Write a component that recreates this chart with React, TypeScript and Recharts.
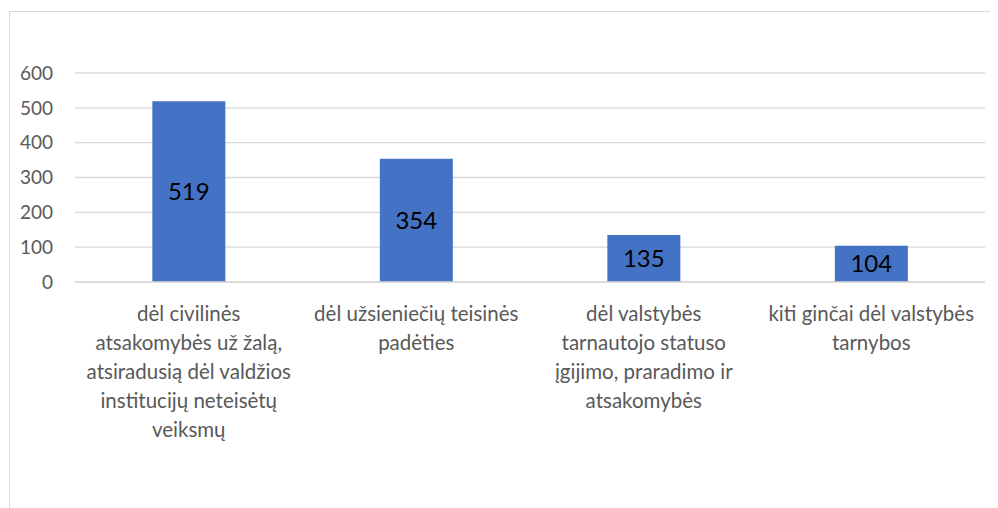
import React from "react";
import { BarChart, Bar, XAxis, YAxis, CartesianGrid, LabelList } from "recharts";

const categories = [
  "dėl civilinės\natsakomybės už žalą,\natsiradusią dėl valdžios\ninstitucijų neteisėtų\nveiksmų",
  "dėl užsieniečių teisinės\npadėties",
  "dėl valstybės\ntarnautojo statuso\nįgijimo, praradimo ir\natsakomybės",
  "kiti ginčai dėl valstybės\ntarnybos",
];
const counts = [519, 354, 135, 104];
const yTicks = [0, 100, 200, 300, 400, 500, 600];

const data = categories.map((name, i) => ({ name, value: counts[i] }));

const FONT = "Lato, 'Open Sans', sans-serif";

function CategoryTick({ x, y, payload }: any) {
  const lines = String(payload.value).split("\n");
  return (
    <text x={x} y={y} textAnchor="middle" fill="#595959" fontSize={20.5} fontFamily={FONT}>
      {lines.map((l, i) => (
        <tspan key={i} x={x} dy={i === 0 ? 37 : 29}>
          {l}
        </tspan>
      ))}
    </text>
  );
}

export default function App() {
  return (
    <div style={{ position: "relative", width: 990, height: 500, overflow: "hidden" }}>
      <div
        style={{
          position: "absolute",
          left: 1,
          top: 3,
          width: 1100,
          height: 600,
          border: "1px solid #d9d9d9",
          boxSizing: "border-box",
        }}
      />
      <div style={{ position: "absolute", left: 0, top: 0 }}>
        <BarChart
          width={990}
          height={500}
          data={data}
          margin={{ top: 65, right: 13, bottom: 0, left: 0 }}
          barCategoryGap="34%"
        >
          <CartesianGrid vertical={false} stroke="#d9d9d9" strokeWidth={1.3} />
          <XAxis
            dataKey="name"
            height={226}
            interval={0}
            axisLine={{ stroke: "#d9d9d9", strokeWidth: 1.3 }}
            tickLine={false}
            tickSize={0}
            tick={<CategoryTick />}
          />
          <YAxis
            width={67}
            domain={[0, 600]}
            ticks={yTicks}
            axisLine={false}
            tickLine={false}
            tickSize={0}
            tickMargin={22}
            tick={{ fill: "#595959", fontSize: 19, fontFamily: FONT }}
          />
          <Bar dataKey="value" fill="#4472c4" isAnimationActive={false}>
            <LabelList
              dataKey="value"
              position="center"
              fill="#000"
              fontSize={24}
              fontFamily={FONT}
            />
          </Bar>
        </BarChart>
      </div>
    </div>
  );
}
